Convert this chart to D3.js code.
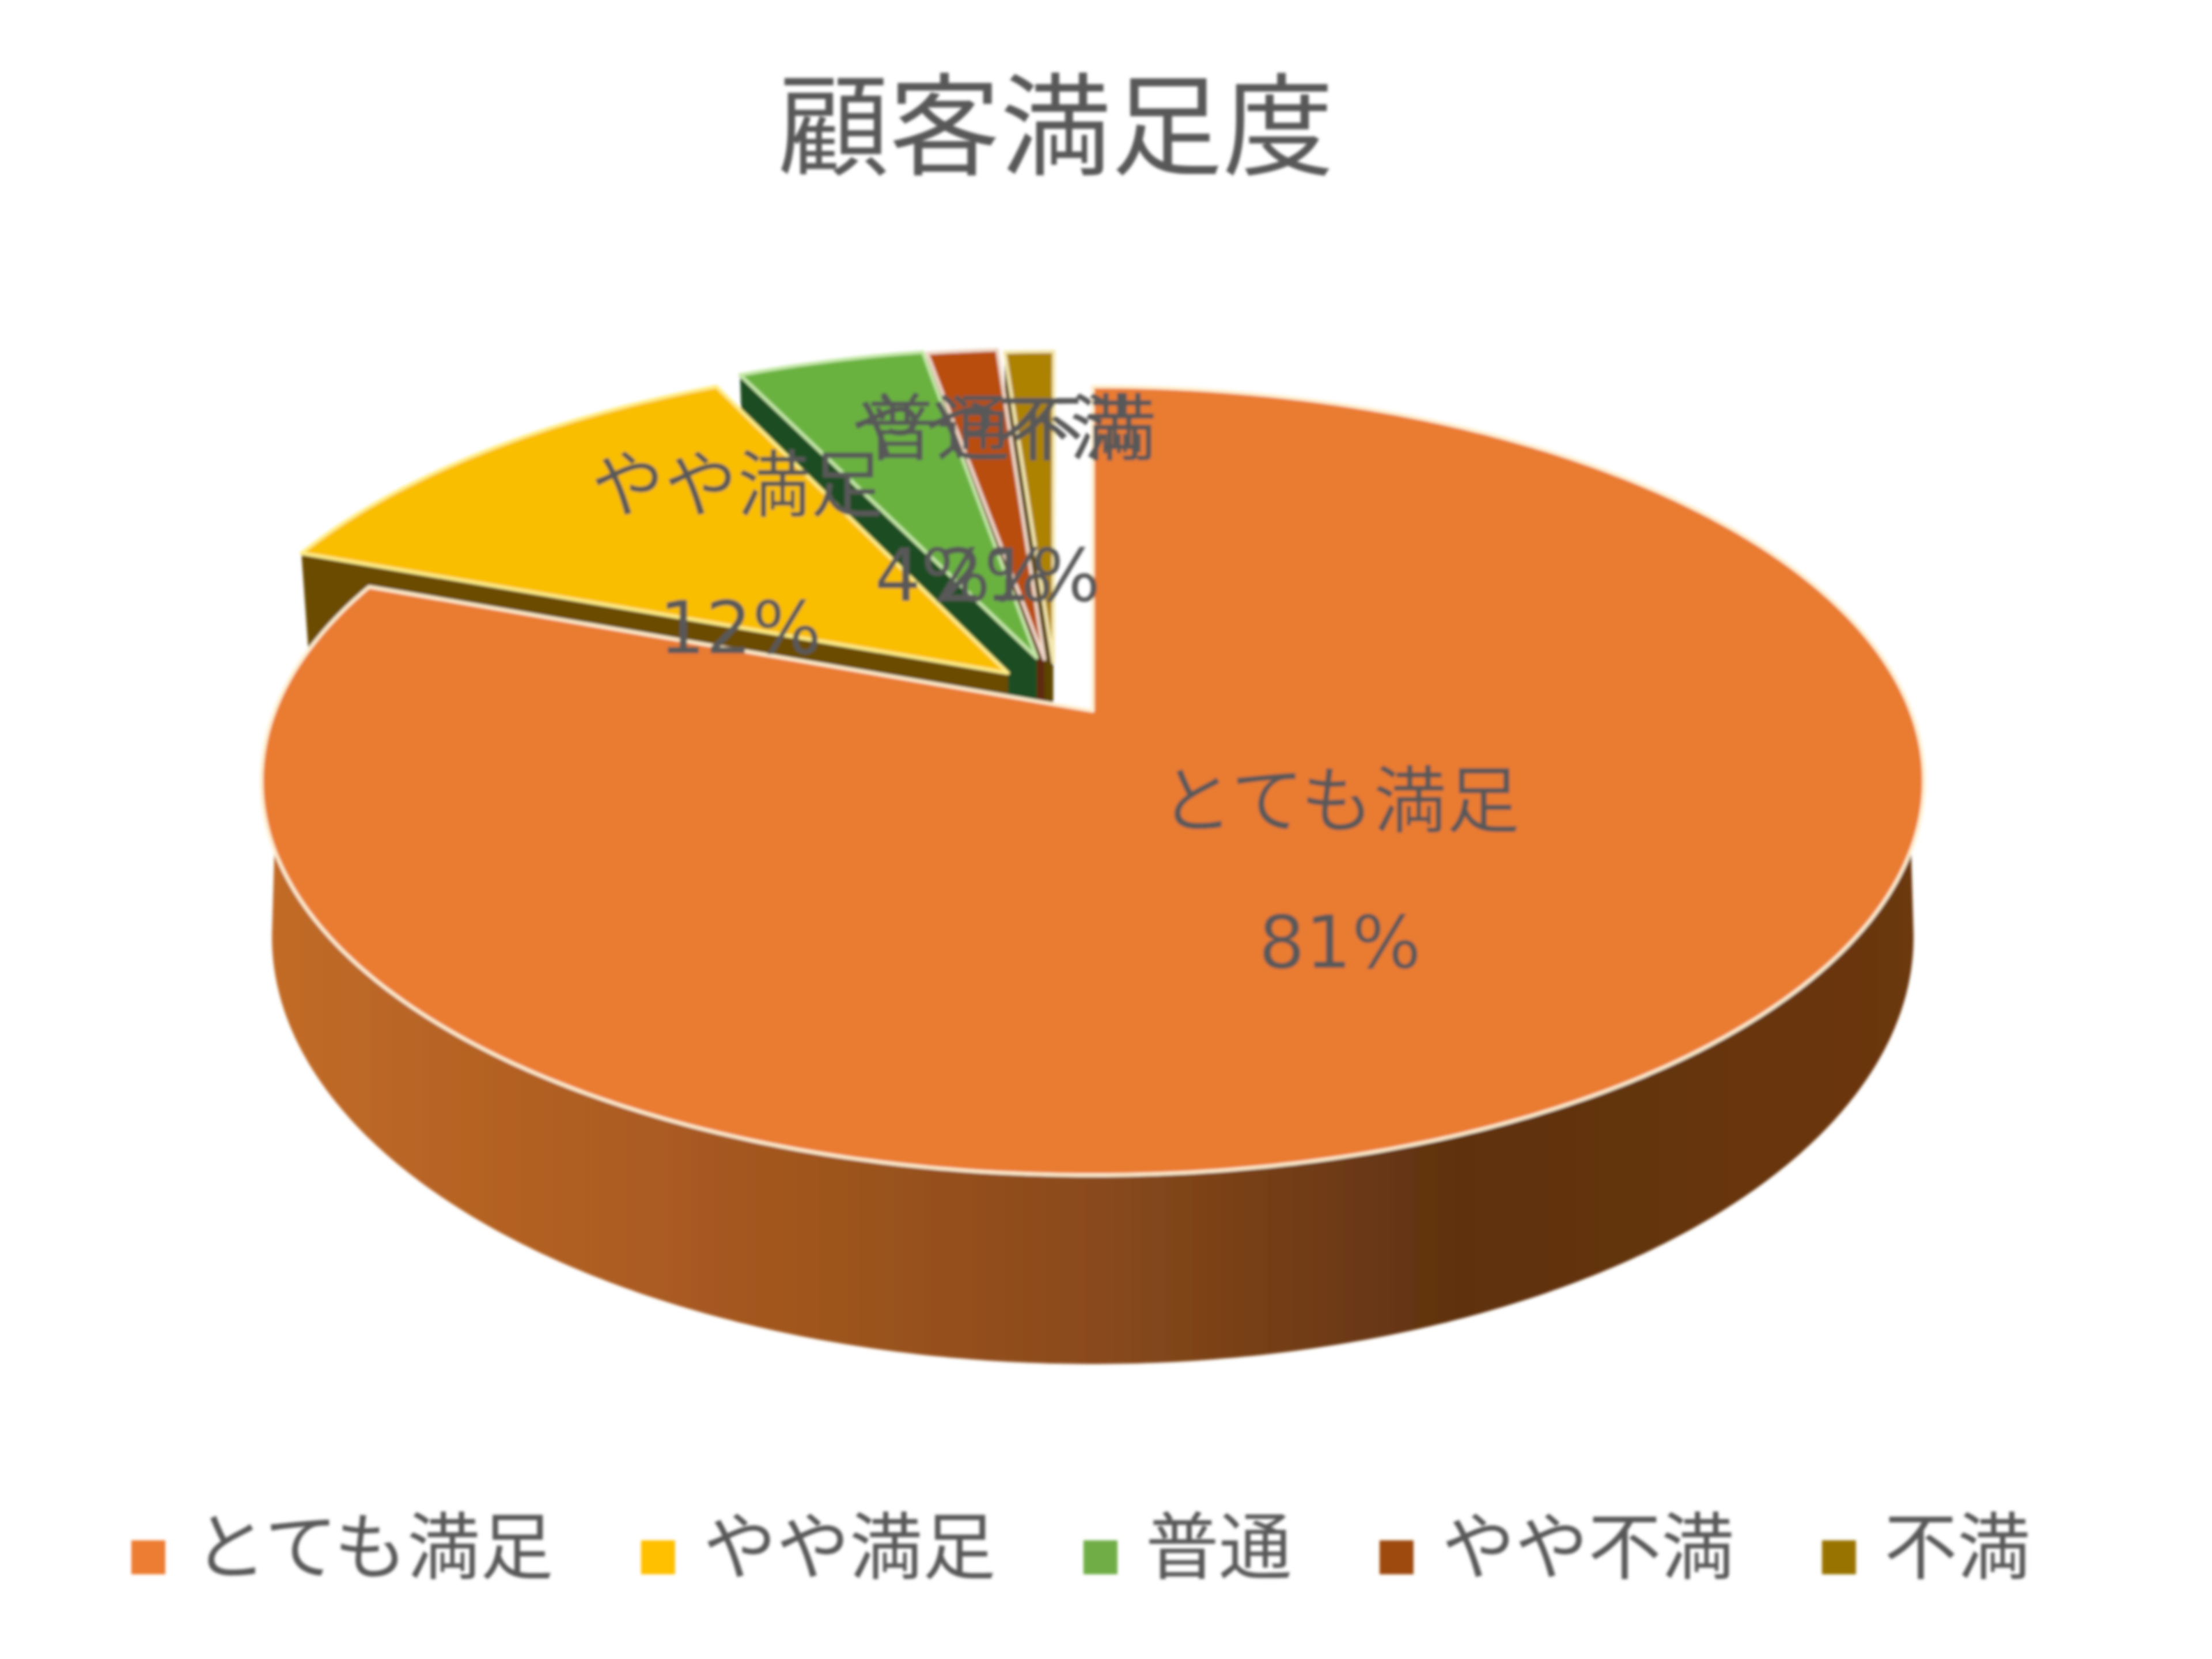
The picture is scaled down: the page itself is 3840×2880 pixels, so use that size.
<!DOCTYPE html>
<html>
<head>
<meta charset="utf-8">
<script src="https://cdn.jsdelivr.net/npm/d3@7"></script>
<style>
  body { margin: 0; background: #fff; }
  text { font-family: "Noto Sans CJK JP", sans-serif; fill: #595959; }
  text.pct { font-family: "DejaVu Sans", sans-serif; }
</style>
</head>
<body>
<script>
// data
const categories = ["とても満足", "やや満足", "普通", "やや不満", "不満"];
const values = [80.6, 12.2, 4.4, 1.65, 1.15];

// styles
const legendColors = ["#ED7D31", "#FFC000", "#70AD47", "#9E480E", "#997300"];
const topColors = ["#EA7B30", "#FABE00", "#6BB23F", "#B94E0E", "#AD8200"];
const wallColors = ["url(#orangeWall)", "#6B4C00", "#1E4D22", "#5E2B08", "#5C4500"];
const edgeColors = ["#FFEFD0", "#FFEE88", "#C5E8A8", "#F0D8C8", "#F4E8B0"];
const explode = [0, 0.15, 0.15, 0.14, 0.13];
const nudgeX = [0, 8, -33, -60, -62];
// label centres: [name x, name y, percent x, percent y]
const labelSpots = [
  [2326, 1380, 2326, 1636],
  [1280, 832, 1285, 1090],
  [1626, 734, 1619, 999],
  [1730, 734, 1728, 999],
  [1881, 734, 1810, 999]
];

const width = 3840, height = 2880;
const cx = 1897, cy = 1234;
const Rx = 1420, Ry = 663, persp = 0.1775;
const bottomDrop = 261, bottomScaleX = 0.9875, bottomRy = 718;
const labelSize = 127;

const svg = d3.select("body").append("svg")
  .attr("width", width).attr("height", height)
  .attr("viewBox", `0 0 ${width} ${height}`);

const defs = svg.append("defs");
const grad = defs.append("linearGradient")
  .attr("id", "orangeWall")
  .attr("gradientUnits", "userSpaceOnUse")
  .attr("x1", 455).attr("x2", 3340).attr("y1", 0).attr("y2", 0);
[[0, "#C26B28"], [0.25, "#A95A20"], [0.5, "#8A4A1C"], [0.72, "#5F3210"], [1, "#6C3711"]]
  .forEach(s => grad.append("stop").attr("offset", s[0]).attr("stop-color", s[1]));

// the source is a soft, upscaled screenshot
defs.append("filter")
  .attr("id", "soft")
  .attr("filterUnits", "userSpaceOnUse")
  .attr("x", 0).attr("y", 0).attr("width", width).attr("height", height)
  .append("feGaussianBlur").attr("stdDeviation", 2.5);

const root = svg.append("g").attr("filter", "url(#soft)");

// perspective projection of the unit disc, level 0 = top face, 1 = bottom face
function project(u, v, i, level) {
  const d = 1 + persp * v;
  return [
    cx + nudgeX[i] + (level ? bottomScaleX : 1) * Rx * u / d,
    cy + (level ? bottomDrop : 0) - (level ? bottomRy : Ry) * v / d
  ];
}

const slices = d3.pie().sort(null).value(d => d)(values);

function rimPoints(sl, i, level) {
  const mid = (sl.startAngle + sl.endAngle) / 2;
  const du = explode[i] * Math.sin(mid), dv = explode[i] * Math.cos(mid);
  const n = Math.max(2, Math.ceil((sl.endAngle - sl.startAngle) / 0.01));
  return d3.range(n + 1).map(j => {
    const a = sl.startAngle + (sl.endAngle - sl.startAngle) * j / n;
    return project(Math.sin(a) + du, Math.cos(a) + dv, i, level);
  });
}

function apex(sl, i, level) {
  const mid = (sl.startAngle + sl.endAngle) / 2;
  return project(explode[i] * Math.sin(mid), explode[i] * Math.cos(mid), i, level);
}

const line = d3.line().curve(d3.curveLinear);
const pie = root.append("g");
const frontTop = { startAngle: Math.PI * 110 / 180, endAngle: Math.PI * 250 / 180 };
const frontBottom = { startAngle: Math.PI / 2, endAngle: Math.PI * 1.5 };

// painter's order: smallest slice at the back, the big one last
d3.range(slices.length - 1, -1, -1).forEach(i => {
  const sl = slices[i];
  const top = rimPoints(sl, i, 0);
  const bottom = rimPoints(sl, i, 1);
  let wall;
  if (i === 0) {
    // hull gives the straight silhouette between the two rims
    wall = d3.polygonHull(rimPoints(frontTop, 0, 0).concat(rimPoints(frontBottom, 0, 1)));
  } else {
    // only the cut face turned to the viewer shows
    wall = [top[0], apex(sl, i, 0), apex(sl, i, 1), bottom[0]];
  }
  pie.append("path")
    .attr("d", line(wall) + "Z")
    .attr("fill", wallColors[i]);
  pie.append("path")
    .attr("d", line([apex(sl, i, 0)].concat(top)) + "Z")
    .attr("fill", topColors[i])
    .attr("stroke", edgeColors[i])
    .attr("stroke-width", 6)
    .attr("stroke-linejoin", "round");
});

// title
root.append("text")
  .attr("x", 1833).attr("y", 205)
  .attr("text-anchor", "middle").attr("dominant-baseline", "central")
  .attr("font-size", 193)
  .text("顧客満足度");

// data labels
const labels = root.append("g").attr("font-size", labelSize).attr("text-anchor", "middle");
categories.forEach((c, i) => {
  labels.append("text")
    .attr("x", labelSpots[i][0]).attr("y", labelSpots[i][1])
    .attr("dominant-baseline", "central")
    .text(c);
  labels.append("text")
    .attr("class", "pct")
    .attr("x", labelSpots[i][2]).attr("y", labelSpots[i][3])
    .attr("dominant-baseline", "central")
    .text(Math.round(values[i]) + "%");
});

// legend
const legend = root.append("g");
let lx = 228;
categories.forEach((c, i) => {
  legend.append("rect")
    .attr("x", lx).attr("y", 2674)
    .attr("width", 59).attr("height", 59)
    .attr("fill", legendColors[i]);
  const t = legend.append("text")
    .attr("x", lx + 108).attr("y", 2676)
    .attr("dominant-baseline", "central")
    .attr("font-size", labelSize)
    .text(c);
  lx += 104 + t.node().getComputedTextLength() + 156;
});
</script>
</body>
</html>
